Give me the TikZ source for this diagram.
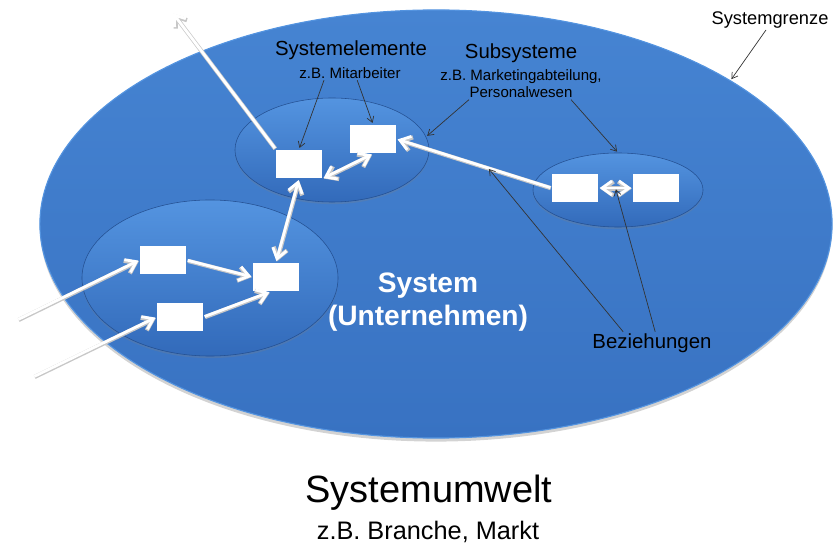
\documentclass[tikz,border=0pt]{standalone}
\usepackage{fontspec}
\setmainfont{Liberation Sans}
\usetikzlibrary{shapes.geometric, arrows.meta, shadows, positioning, calc}

\definecolor{sysblue}{RGB}{56,114,194}
\definecolor{systop}{RGB}{70,132,210}
\definecolor{subtop}{RGB}{84,148,224}
\definecolor{subbot}{RGB}{50,106,186}
\definecolor{subedge}{RGB}{36,80,146}

\begin{document}
\begin{tikzpicture}[
    x=0.025cm, y=-0.025cm,
    sysell/.style={ellipse, inner sep=0pt, top color=systop, bottom color=sysblue,
        draw=subtop, line width=0.8pt,
        drop shadow={opacity=0.35, shadow xshift=0pt, shadow yshift=-2.5pt}},
    subell/.style={ellipse, inner sep=0pt, top color=subtop, bottom color=subbot,
        draw=subedge, line width=0.4pt,
        drop shadow={opacity=0.25, shadow xshift=0pt, shadow yshift=-1.5pt}},
    elem/.style={rectangle, fill=white, minimum width=1.15cm, minimum height=0.72cm, inner sep=0pt},
    wshadow/.style={preaction={draw=black!22, line width=3pt,
        transform canvas={xshift=0.3pt, yshift=-0.4pt}}},
    rel/.style={draw=white, line width=2pt, shorten <=1pt, shorten >=1pt, wshadow,
        -{Straight Barb[length=7pt, width=10pt]}},
    relboth/.style={draw=white, line width=2pt, shorten <=1pt, shorten >=1pt, wshadow,
        {Straight Barb[length=7pt, width=10pt]}-{Straight Barb[length=7pt, width=10pt]}},
    hint/.style={draw=black!80, line width=0.5pt, shorten >=1pt,
        -{Straight Barb[length=4pt, width=5pt]}},
    head/.style={font=\fontsize{14.5}{17}\selectfont, inner sep=1pt},
    note/.style={font=\fontsize{10.7}{12}\selectfont, inner sep=1pt, align=center}
]
\useasboundingbox (0,0) rectangle (836,544);

% ==========================================
% 1. System and subsystems
% ==========================================
\node[sysell, minimum width=19.8cm, minimum height=10.7cm] (sysE) at (436,224) {};

\node[subell, minimum width=4.85cm, minimum height=2.6cm] (subA) at (332,150) {}; % top
\node[subell, minimum width=6.4cm, minimum height=3.9cm] (subB) at (210,278) {};  % left
\node[subell, minimum width=4.25cm, minimum height=1.85cm] (subC) at (618,190) {}; % right

% ==========================================
% 2. System elements (white boxes)
% ==========================================
\node[elem] (B1) at (373,139) {};
\node[elem] (B2) at (299,164) {};
\node[elem] (B3) at (575,188) {};
\node[elem] (B4) at (656,188) {};
\node[elem] (B5) at (163,260) {};
\node[elem] (B6) at (180,317) {};
\node[elem] (B7) at (276,277) {};

% ==========================================
% 3. Relations (white arrows)
% ==========================================
\coordinate (inA) at (17,320);
\coordinate (inB) at (33,377);
\coordinate (outA) at (172,12);

\draw[rel] (inA) -- (B5.west);
\draw[rel] (inB) -- (B6.west);
\draw[rel] (B2.north west) -- (outA);
\draw[rel] (B5.east) -- (B7.west);
\draw[rel] (B6.east) -- (B7.250);
\draw[relboth] (B7.north) -- (B2.south);
\draw[relboth] (B2.south east) -- (B1.south);
\draw[rel] (B3.west) -- (B1.east) coordinate[pos=0.41] (relMid);
\draw[relboth] (B3.east) -- (B4.west) coordinate[pos=0.5] (relPair);

% ==========================================
% 4. Labels
% ==========================================
\node[font=\fontsize{13}{15}\selectfont, inner sep=1pt] (lblGrenze) at (770,20) {Systemgrenze};
\node[head] (lblElem) at (351,50) {Systemelemente};
\node[note] (lblMit) at (350,73) {z.B. Mitarbeiter};
\node[head] (lblSub) at (521,53) {Subsysteme};
\node[note] (lblMark) at (521,84) {z.B. Marketingabteilung,\\Personalwesen};
\node[head] (lblBez) at (652,343) {Beziehungen};

\node[white, align=center, font=\bfseries\fontsize{20}{23.5}\selectfont] (lblSys) at (428,302)
    {System\\(Unternehmen)};

\node[font=\fontsize{27}{30}\selectfont] (lblUmw) at (429,493) {Systemumwelt};
\node[font=\fontsize{18}{20}\selectfont] (lblMarkt) at (428,532) {z.B. Branche, Markt};

% ==========================================
% 5. Label pointers (thin black arrows)
% ==========================================
\draw[hint] ([xshift=-0.65cm]lblMit.south) -- (B2.north);
\draw[hint] ([xshift=0.18cm]lblMit.south) -- (B1.north);
\draw[hint] ([xshift=-1.3cm]lblMark.south) -- (subA.8);
\draw[hint] ([xshift=1.25cm]lblMark.south) -- (subC.north);
\draw[hint] ([xshift=-0.1cm]lblGrenze.south) -- (sysE.26);
\draw[hint] ([xshift=-0.72cm]lblBez.north) -- (relMid);
\draw[hint] ([xshift=0.08cm]lblBez.north) -- (relPair);

\end{tikzpicture}
\end{document}
